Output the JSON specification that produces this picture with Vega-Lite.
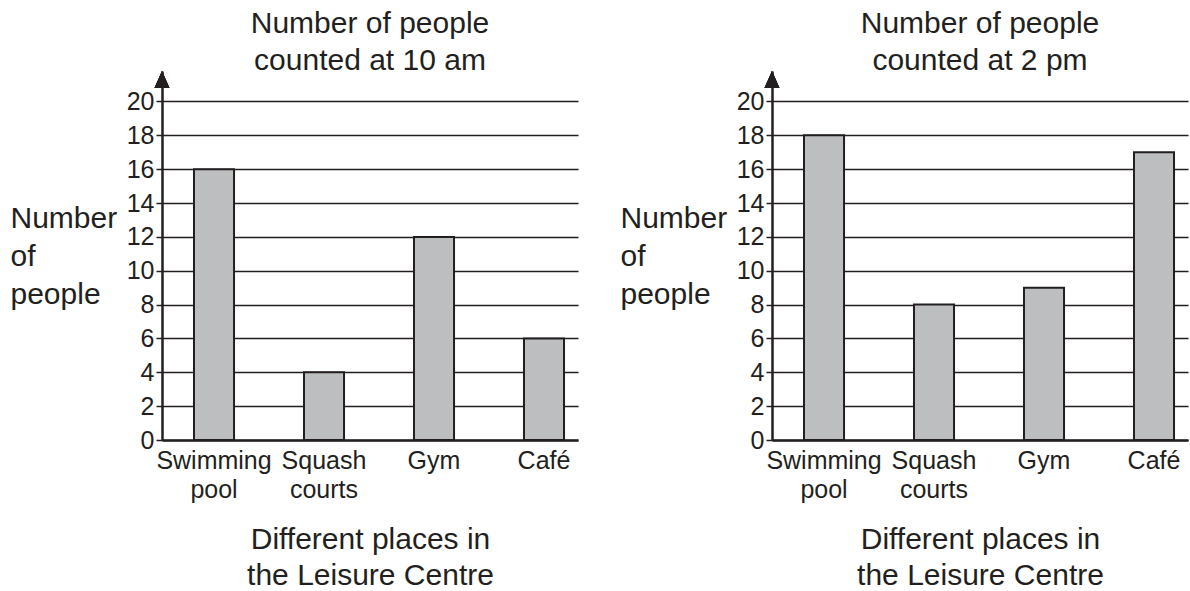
{
  "$schema": "https://vega.github.io/schema/vega-lite/v6.json",
  "padding": {"left": 10, "top": 8, "right": 2, "bottom": 2},
  "background": "white",
  "config": {
    "font": "Liberation Sans",
    "view": {"stroke": null},
    "title": {"fontSize": 30, "fontWeight": "normal", "color": "#231f20", "lineHeight": 37, "anchor": "middle", "offset": -5},
    "axisX": {
      "domain": true, "domainColor": "#231f20", "domainWidth": 2.5,
      "ticks": false, "grid": false,
      "labelFontSize": 25, "labelColor": "#231f20", "labelPadding": 8, "labelLineHeight": 29, "labelAngle": 0, "labelOverlap": false,
      "titleFontSize": 30, "titleFontWeight": "normal", "titleColor": "#231f20", "titleLineHeight": 36, "titlePadding": 22
    },
    "axisY": {
      "domain": true, "domainColor": "#231f20", "domainWidth": 2.5,
      "grid": true, "gridColor": "#231f20", "gridWidth": 1.5, "gridOpacity": 1,
      "ticks": true, "tickColor": "#231f20", "tickSize": 6, "tickWidth": 1.5,
      "labelFontSize": 25, "labelColor": "#231f20", "labelPadding": 2, "labelOverlap": false,
      "titleFontSize": 30, "titleFontWeight": "normal", "titleColor": "#231f20", "titleLineHeight": 38,
      "titleAngle": 0, "titleAlign": "left", "titleBaseline": "alphabetic", "titleX": -152, "titleY": 156
    }
  },
  "datasets": {
    "counts": [
      {"time": "10 am", "place": "Swimming pool", "count": 16},
      {"time": "10 am", "place": "Squash courts", "count": 4},
      {"time": "10 am", "place": "Gym", "count": 12},
      {"time": "10 am", "place": "Café", "count": 6},
      {"time": "2 pm", "place": "Swimming pool", "count": 18},
      {"time": "2 pm", "place": "Squash courts", "count": 8},
      {"time": "2 pm", "place": "Gym", "count": 9},
      {"time": "2 pm", "place": "Café", "count": 17}
    ]
  },
  "spacing": 42,
  "hconcat": [
    {
      "title": {"text": ["Number of people", "counted at 10 am"]},
      "width": 416, "height": 369,
      "data": {"name": "counts"},
      "transform": [{"filter": "datum.time === '10 am'"}],
      "layer": [
        {
          "mark": {"type": "bar", "fill": "#bcbec0", "stroke": "#231f20", "strokeWidth": 2},
          "encoding": {
            "x": {"field": "place", "type": "nominal", "sort": ["Swimming pool", "Squash courts", "Gym", "Café"],
                  "scale": {"paddingInner": 0.636, "paddingOuter": 0.209, "align": 0.696},
                  "axis": {"title": ["Different places in", "the Leisure Centre"], "labelExpr": "split(datum.label, ' ')", "labelOverlap": false}},
            "y": {"field": "count", "type": "quantitative", "scale": {"domain": [0, 21.8], "nice": false},
                  "axis": {"values": [0, 2, 4, 6, 8, 10, 12, 14, 16, 18, 20], "tickCount": 11, "title": ["Number", "of", "people"], "labelOverlap": false}}
          }
        },
        {
          "mark": {"type": "point", "shape": "M0,-1L0.88,1L-0.88,1Z", "filled": true, "size": 289, "color": "#231f20", "opacity": 1},
          "encoding": {
            "x": {"datum": 0, "type": "quantitative", "scale": {"domain": [0, 1]}, "axis": null},
            "y": {"datum": 21.3, "type": "quantitative", "axis": {"values": [0, 2, 4, 6, 8, 10, 12, 14, 16, 18, 20], "tickCount": 11, "title": ["Number", "of", "people"], "labelOverlap": false}}
          }
        }
      ],
      "resolve": {"scale": {"x": "independent"}}
    },
    {
      "title": {"text": ["Number of people", "counted at 2 pm"]},
      "width": 416, "height": 369,
      "data": {"name": "counts"},
      "transform": [{"filter": "datum.time === '2 pm'"}],
      "layer": [
        {
          "mark": {"type": "bar", "fill": "#bcbec0", "stroke": "#231f20", "strokeWidth": 2},
          "encoding": {
            "x": {"field": "place", "type": "nominal", "sort": ["Swimming pool", "Squash courts", "Gym", "Café"],
                  "scale": {"paddingInner": 0.636, "paddingOuter": 0.209, "align": 0.696},
                  "axis": {"title": ["Different places in", "the Leisure Centre"], "labelExpr": "split(datum.label, ' ')", "labelOverlap": false}},
            "y": {"field": "count", "type": "quantitative", "scale": {"domain": [0, 21.8], "nice": false},
                  "axis": {"values": [0, 2, 4, 6, 8, 10, 12, 14, 16, 18, 20], "tickCount": 11, "title": ["Number", "of", "people"], "labelOverlap": false}}
          }
        },
        {
          "mark": {"type": "point", "shape": "M0,-1L0.88,1L-0.88,1Z", "filled": true, "size": 289, "color": "#231f20", "opacity": 1},
          "encoding": {
            "x": {"datum": 0, "type": "quantitative", "scale": {"domain": [0, 1]}, "axis": null},
            "y": {"datum": 21.3, "type": "quantitative", "axis": {"values": [0, 2, 4, 6, 8, 10, 12, 14, 16, 18, 20], "tickCount": 11, "title": ["Number", "of", "people"], "labelOverlap": false}}
          }
        }
      ],
      "resolve": {"scale": {"x": "independent"}}
    }
  ]
}
